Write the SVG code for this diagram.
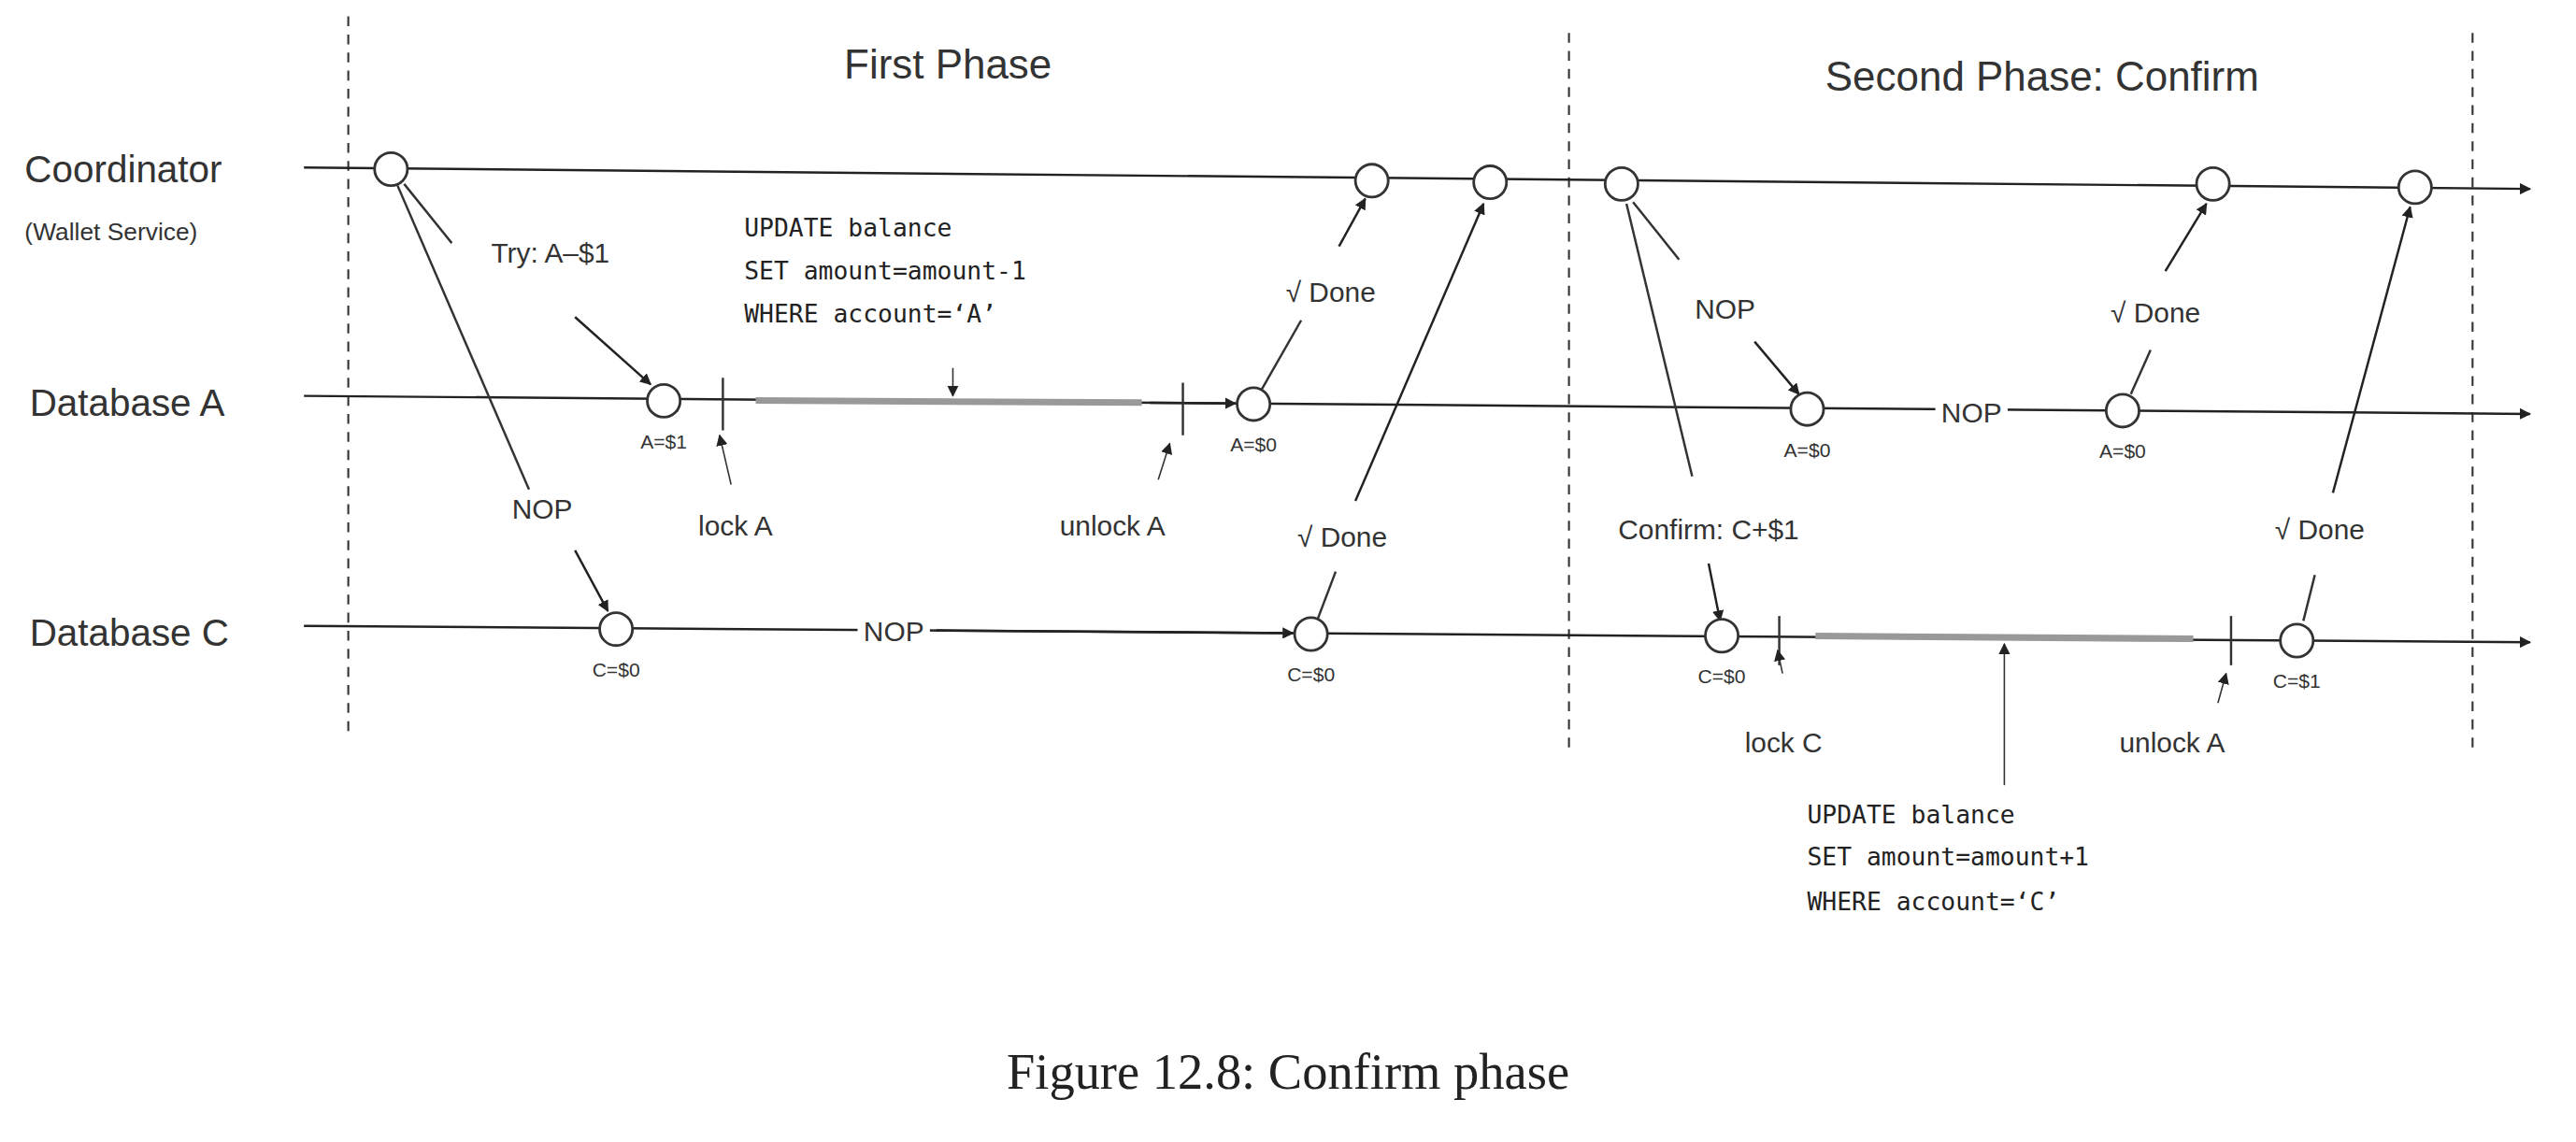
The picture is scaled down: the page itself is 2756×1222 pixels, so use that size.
<svg xmlns="http://www.w3.org/2000/svg" width="2756" height="1222" viewBox="0 0 2756 1222">
<defs>
<marker id="ah" viewBox="0 0 10 10" refX="9" refY="5" markerWidth="7" markerHeight="7" orient="auto" markerUnits="userSpaceOnUse"><path d="M0,0 L10,5 L0,10 z" fill="#222"/></marker>
<style>
.l{stroke:#333;stroke-width:1.4;fill:none}
.a{stroke:#222;stroke-width:1.4;fill:none;marker-end:url(#ah)}
.p{stroke:#333;stroke-width:0.9;fill:none;marker-end:url(#ah)}
.d{stroke:#333;stroke-width:1.2;stroke-dasharray:6,5;fill:none}
.n{fill:#fff;stroke:#333;stroke-width:1.6}
.bar{stroke:#999;stroke-width:4;fill:none}
.t{font-family:"Liberation Sans",Arial,sans-serif;fill:#333}
.m{font-family:"DejaVu Sans Mono","Liberation Mono",monospace;fill:#222;font-size:15px}
.s{font-family:"Liberation Sans",Arial,sans-serif;fill:#333;font-size:12px;text-anchor:middle}
</style>
</defs>
<rect width="2756" height="1222" fill="#fff"/>
<g transform="scale(1.7577)">
<g id="frame">
<line class="d" x1="212" y1="10" x2="212" y2="445"/>
<line class="d" x1="955" y1="20" x2="955" y2="455"/>
<line class="d" x1="1505" y1="20" x2="1505" y2="455"/>
<text class="t" x="577" y="48" font-size="25" text-anchor="middle">First Phase</text>
<text class="t" x="1243" y="55" font-size="25" text-anchor="middle">Second Phase: Confirm</text>
<text class="t" x="15" y="111" font-size="23">Coordinator</text>
<text class="t" x="15" y="146" font-size="15">(Wallet Service)</text>
<text class="t" x="18" y="253" font-size="23">Database A</text>
<text class="t" x="18" y="393" font-size="23">Database C</text>
<text x="784" y="663" font-size="31" text-anchor="middle" font-family="Liberation Serif,serif" fill="#222">Figure 12.8: Confirm phase</text>
</g>
<g id="connectors">
<line class="a" x1="185" y1="102" x2="1540" y2="115"/>
<line class="a" x1="185" y1="241" x2="1540" y2="252"/>
<line class="a" x1="185" y1="381" x2="1540" y2="391"/>
<line class="a" x1="700" y1="245.2" x2="752" y2="245.6"/>
<line class="a" x1="570" y1="383.8" x2="787" y2="385.4"/>
<line class="bar" x1="460" y1="243.8" x2="695" y2="245.1"/>
<line class="bar" x1="1105" y1="387.2" x2="1335" y2="388.9"/>
<line class="l" x1="440" y1="230" x2="440" y2="262"/>
<line class="l" x1="720" y1="233" x2="720" y2="265"/>
<line class="l" x1="1083" y1="375" x2="1083" y2="405"/>
<line class="l" x1="1358" y1="375" x2="1358" y2="405"/>
<line class="p" x1="580" y1="224" x2="580" y2="241"/>
<line class="p" x1="445" y1="295" x2="438" y2="265"/>
<line class="p" x1="705" y1="292" x2="712" y2="270"/>
<line class="p" x1="1220" y1="478" x2="1220" y2="392"/>
<line class="p" x1="1085" y1="410" x2="1082" y2="396"/>
<line class="p" x1="1350" y1="428" x2="1355" y2="410"/>
<line class="l" x1="246" y1="112" x2="275" y2="148"/>
<line class="a" x1="350" y1="193" x2="396" y2="234"/>
<line class="l" x1="242" y1="113" x2="322" y2="298"/>
<line class="a" x1="350" y1="335" x2="370" y2="372"/>
<line class="l" x1="768" y1="237" x2="792" y2="195"/>
<line class="a" x1="815" y1="150" x2="831" y2="121"/>
<line class="l" x1="802" y1="377" x2="813" y2="348"/>
<line class="a" x1="825" y1="305" x2="903" y2="124"/>
<line class="l" x1="994" y1="123" x2="1022" y2="158"/>
<line class="a" x1="1068" y1="208" x2="1095" y2="240"/>
<line class="l" x1="990" y1="124" x2="1030" y2="290"/>
<line class="a" x1="1040" y1="343" x2="1047" y2="378"/>
<line class="l" x1="1297" y1="240" x2="1309" y2="213"/>
<line class="a" x1="1318" y1="165" x2="1343" y2="124"/>
<line class="l" x1="1402" y1="378" x2="1409" y2="350"/>
<line class="a" x1="1420" y1="300" x2="1467" y2="126"/>
</g>
<g id="labels">
<text class="t" x="335" y="160" font-size="17" text-anchor="middle">Try: A–$1</text>
<text class="t" x="330" y="316" font-size="17" text-anchor="middle">NOP</text>
<text class="t" x="425" y="326" font-size="17">lock A</text>
<text class="t" x="645" y="326" font-size="17">unlock A</text>
<rect x="522" y="374" width="44" height="20" fill="#fff"/>
<text class="t" x="544" y="390" font-size="17" text-anchor="middle">NOP</text>
<text class="t" x="810" y="184" font-size="17" text-anchor="middle">√ Done</text>
<text class="t" x="817" y="333" font-size="17" text-anchor="middle">√ Done</text>
<text class="m" x="453" y="144">UPDATE balance</text>
<text class="m" x="453" y="170">SET amount=amount-1</text>
<text class="m" x="453" y="196">WHERE account=‘A’</text>
<text class="t" x="1050" y="194" font-size="17" text-anchor="middle">NOP</text>
<rect x="1178" y="240" width="44" height="20" fill="#fff"/>
<text class="t" x="1200" y="257" font-size="17" text-anchor="middle">NOP</text>
<text class="t" x="1040" y="328" font-size="17" text-anchor="middle">Confirm: C+$1</text>
<text class="t" x="1312" y="196" font-size="17" text-anchor="middle">√ Done</text>
<text class="t" x="1412" y="328" font-size="17" text-anchor="middle">√ Done</text>
<text class="t" x="1062" y="458" font-size="17">lock C</text>
<text class="t" x="1290" y="458" font-size="17">unlock A</text>
<text class="m" x="1100" y="501">UPDATE balance</text>
<text class="m" x="1100" y="527">SET amount=amount+1</text>
<text class="m" x="1100" y="554">WHERE account=‘C’</text>
</g>
<g id="n1"><circle class="n" cx="238" cy="103" r="10"/></g>
<g id="n2"><circle class="n" cx="835" cy="110" r="10"/></g>
<g id="n3"><circle class="n" cx="907" cy="111" r="10"/></g>
<g id="n4"><circle class="n" cx="987" cy="112" r="10"/></g>
<g id="n5"><circle class="n" cx="1347" cy="112" r="10"/></g>
<g id="n6"><circle class="n" cx="1470" cy="114" r="10"/></g>
<g id="a1"><circle class="n" cx="404" cy="244" r="10"/><text class="s" x="404" y="273">A=$1</text></g>
<g id="a2"><circle class="n" cx="763" cy="246" r="10"/><text class="s" x="763" y="275">A=$0</text></g>
<g id="a3"><circle class="n" cx="1100" cy="249" r="10"/><text class="s" x="1100" y="278">A=$0</text></g>
<g id="a4"><circle class="n" cx="1292" cy="250" r="10"/><text class="s" x="1292" y="279">A=$0</text></g>
<g id="c1"><circle class="n" cx="375" cy="383" r="10"/><text class="s" x="375" y="412">C=$0</text></g>
<g id="c2"><circle class="n" cx="798" cy="386" r="10"/><text class="s" x="798" y="415">C=$0</text></g>
<g id="c3"><circle class="n" cx="1048" cy="387" r="10"/><text class="s" x="1048" y="416">C=$0</text></g>
<g id="c4"><circle class="n" cx="1398" cy="390" r="10"/><text class="s" x="1398" y="419">C=$1</text></g>
</g>
</svg>
